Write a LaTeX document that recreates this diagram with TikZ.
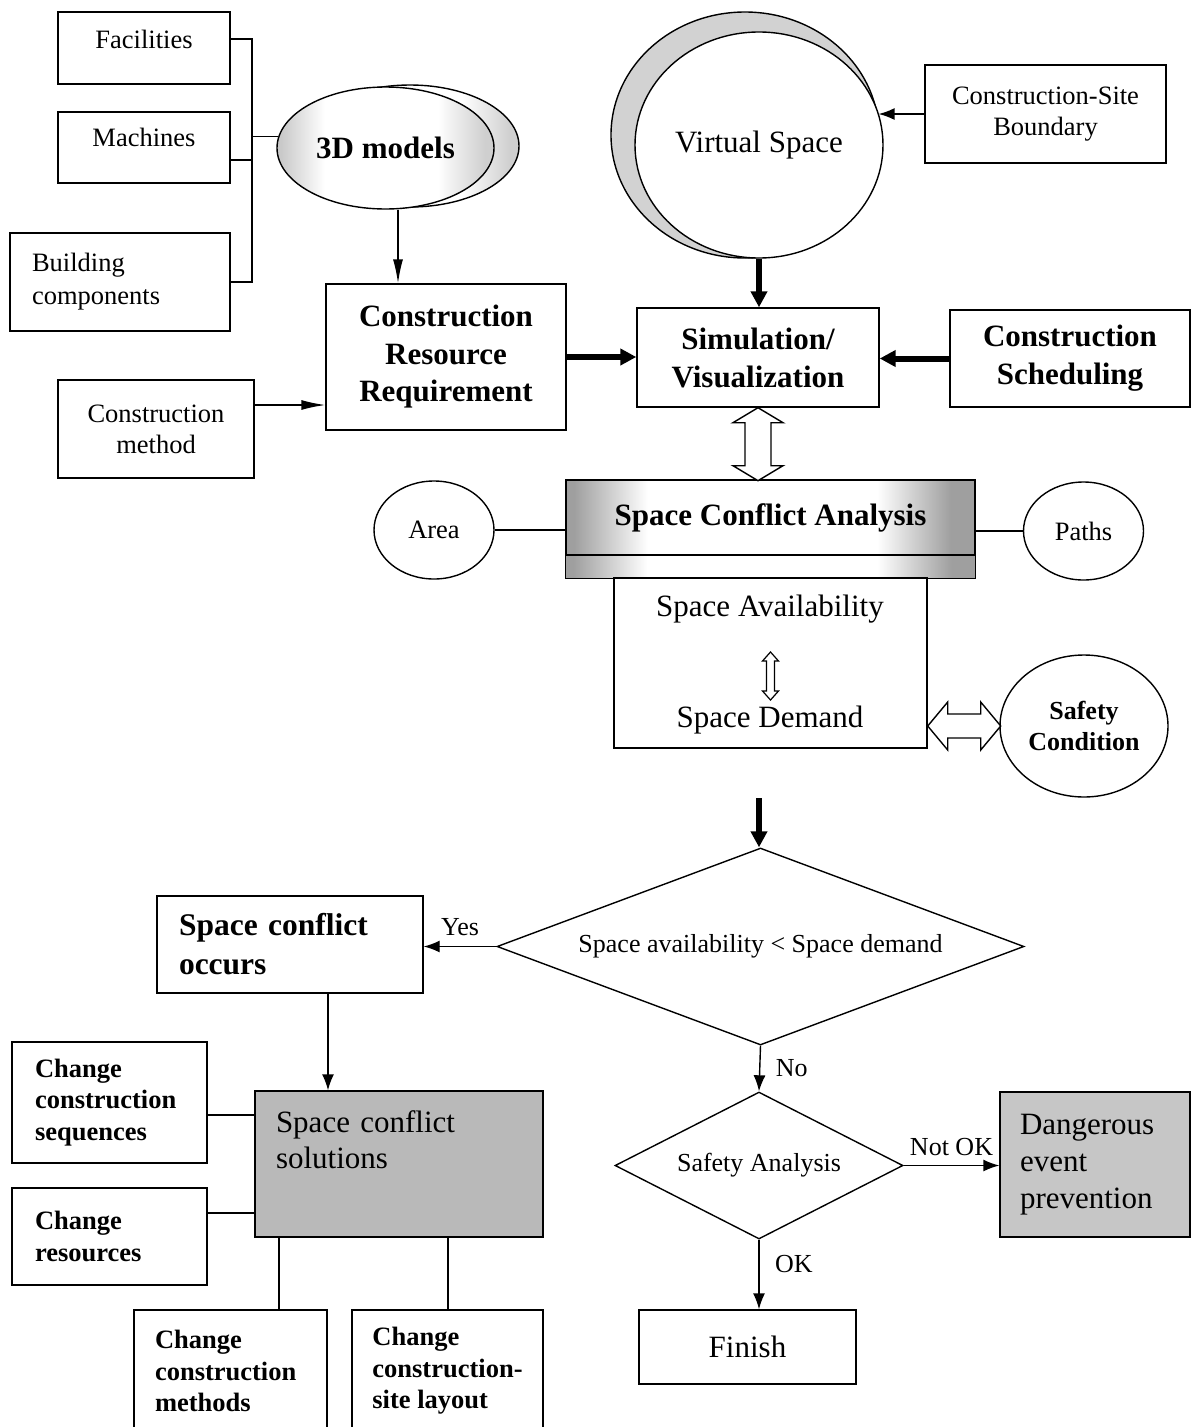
\documentclass[tikz,border=0pt]{standalone}
\usepackage{fontspec}
\setmainfont{Liberation Serif}
\usetikzlibrary{arrows.meta,shapes.geometric,calc}

% grey at the left and right borders, white in the middle
\pgfdeclarehorizontalshading{sidegray}{100bp}{color(0bp)=(gray!75); color(26bp)=(gray!75); color(35bp)=(white); color(63bp)=(white); color(72bp)=(gray!75); color(100bp)=(gray!75)}
\pgfdeclarehorizontalshading{ovalgray}{100bp}{color(0bp)=(gray!42); color(26bp)=(gray!42); color(36bp)=(white); color(62bp)=(white); color(73bp)=(gray!38); color(100bp)=(gray!38)}

\begin{document}
\begin{tikzpicture}[x=1pt,y=-1pt,
  reg/.style={font=\fontsize{26.5}{31}\selectfont},
  regb/.style={font=\fontsize{26.5}{31.5}\selectfont\bfseries},
  big/.style={font=\fontsize{31}{37}\selectfont},
  bigb/.style={font=\fontsize{31}{37.5}\selectfont\bfseries},
  lab/.style={font=\fontsize{26}{30}\selectfont},
  box/.style={draw, line width=1.4pt, rectangle, inner sep=0pt, reg},
  oval/.style={draw, line width=1.4pt, ellipse, inner sep=0pt},
  decision/.style={draw, line width=1.4pt, diamond, inner sep=0pt, lab},
  arr/.style={line width=1.4pt, -{Latex[length=16pt,width=12pt]}},
  longarr/.style={line width=1.4pt, -{Latex[length=24pt,width=10pt]}},
  link/.style={line width=1.4pt},
  thickarr/.style={line width=6pt, -{Triangle[length=16pt,width=16pt]}},
  hollow/.style={draw, line width=1.4pt, fill=white, line join=miter}
]
\useasboundingbox (0,0) rectangle (1192,1427);
\fill[white] (0,0) rectangle (1192,1427);

% ---------- inputs of the 3D models ----------
\node[box, minimum width=172, minimum height=72, text height=18pt, text depth=18pt] (fac) at (144,48) {Facilities};
\node[box, minimum width=172, minimum height=71, text height=18pt, text depth=21pt] (mach) at (144,147.5) {Machines};
\node[box, minimum width=220, minimum height=98, align=left, text width=176, font=\fontsize{26.5}{33}\selectfont] (bld) at (120,282) {Building\\components};

% 3D models (shadowed ellipse)
\draw[line width=1.4pt, shading=ovalgray] (410,146) ellipse [x radius=109, y radius=61];
\node[oval, shading=ovalgray, minimum width=217, minimum height=122, bigb] (tdm) at (385.5,148) {3D models};

\coordinate (brk) at (252,0);
\draw[link] ([yshift=9pt]fac.east) -| (brk |- bld.east) -- (bld.east);
\draw[link] ([yshift=-12.5pt]mach.east) -- ([yshift=-12.5pt]mach.east -| brk);
\draw[link] (tdm.174) -- (tdm.174 -| brk);

% ---------- resource requirement ----------
\node[box, minimum width=196, minimum height=98, align=center] (cm) at (156,429) {Construction\\method};
\node[box, bigb, minimum width=240, minimum height=146, align=center] (crr) at (446,357) {Construction\\Resource\\Requirement};
\draw[longarr] ([xshift=12.5pt]tdm.south) -- ([xshift=12.5pt]tdm.south |- crr.north);
\draw[longarr] ([yshift=24pt]cm.east) -- ([yshift=24pt]cm.east -| crr.west);

% ---------- virtual space ----------
\draw[line width=1.4pt, fill=gray!35] (745,135) ellipse [x radius=134, y radius=123];
\node[oval, fill=white, minimum width=248, minimum height=226, big] (vs) at (759,145) {Virtual Space};
\node[box, minimum width=241, minimum height=98, align=center] (bnd) at (1045.5,114) {Construction-Site\\Boundary};
\draw[arr] (bnd.west) -- (bnd.west -| vs.15);

% ---------- simulation ----------
\node[box, bigb, minimum width=242, minimum height=99, align=center, font=\fontsize{31}{38}\selectfont\bfseries] (sim) at (758,357.5) {Simulation/\\Visualization};
\node[box, bigb, minimum width=240, minimum height=97, align=center, font=\fontsize{31}{38}\selectfont\bfseries] (sched) at (1070,358.5) {Construction\\Scheduling};
\draw[thickarr] (vs.south) -- (vs.south |- sim.north);
\draw[thickarr] (crr.east) -- (crr.east -| sim.west);
\draw[thickarr] (sched.west) -- (sched.west -| sim.east);

% ---------- space conflict analysis ----------
\node[box, bigb, shading=sidegray, minimum width=409, minimum height=75] (sca) at (770.5,517.5) {Space Conflict Analysis};
\draw[line width=1.4pt, shading=sidegray] (sca.south west) rectangle ([yshift=-23pt]sca.south east);
\draw[hollow] (sim.south) -- ++(25,15) -- ++(-12,0) -- ++(0,43) -- ++(12,0) -- ++(-25,15)
  -- ++(-25,-15) -- ++(12,0) -- ++(0,-43) -- ++(-12,0) -- cycle;

\node[oval, reg, minimum width=120, minimum height=98] (area) at (434,530) {Area};
\node[oval, reg, minimum width=120, minimum height=98] (paths) at (1083.5,531) {Paths};
\draw[link] (area.east) -- (area.east -| sca.west);
\draw[link] (paths.west) -- (paths.west -| sca.east);

\node[box, minimum width=313, minimum height=170] (avail) at (770.5,663) {};
\node[big, inner sep=0pt] (avtxt) at (770,609) {Space Availability};
\node[big, inner sep=0pt] (dmtxt) at (770,720) {Space Demand};
\draw[hollow, line width=1.2pt] ([yshift=11pt]avail.center) -- ++(8,9) -- ++(-4,0) -- ++(0,30) -- ++(4,0) -- ++(-8,9)
  -- ++(-8,-9) -- ++(4,0) -- ++(0,-30) -- ++(-4,0) -- cycle;

\node[oval, minimum width=168, minimum height=142, align=center, font=\fontsize{26}{31}\selectfont\bfseries] (safe) at (1084,726) {Safety\\Condition};
\draw[hollow] (safe.west -| avail.east) -- ++(20,-24) -- ++(0,12) -- ++(33,0) -- ++(0,-12) -- ++(20,24)
  -- ++(-20,24) -- ++(0,-12) -- ++(-33,0) -- ++(0,12) -- cycle;

% ---------- decisions ----------
\coordinate (dtop) at (759,798);
\node[decision, aspect=2.67, minimum width=527, minimum height=197] (d1) at (760.5,946.5) {Space availability < Space demand};
\draw[thickarr] (dtop) -- (dtop |- d1.north);

\node[box, minimum width=266, minimum height=97, align=left, text width=222, font=\fontsize{31.5}{39}\selectfont\bfseries] (occ) at (290,944.5) {Space conflict\\occurs};
\draw[arr] (d1.west) -- (d1.west -| occ.east) node[midway, above=7pt, lab] {Yes};

\node[box, fill=gray!55, minimum width=288, minimum height=146, align=left, text width=246, text height=21pt, text depth=85pt, font=\fontsize{31}{36}\selectfont] (sol) at (399,1164) {Space conflict\\solutions};
\draw[arr] ([xshift=38pt]occ.south) -- ([xshift=38pt]occ.south |- sol.north);

\node[box, regb, minimum width=195, minimum height=121, align=left, text width=149] (seq) at (109.5,1102.5) {Change\\construction\\sequences};
\node[box, regb, minimum width=195, minimum height=97, align=left, text width=149] (res) at (109.5,1236.5) {Change\\resources};
\node[box, regb, minimum width=193, minimum height=122, align=left, text width=151] (meth) at (230.5,1371) {Change\\construction\\methods};
\node[box, regb, minimum width=191, minimum height=122, align=left] (lay) at (447.5,1371) {Change\\construction-\\site layout};
\draw[link] ([yshift=-12.5pt]seq.east) -- ([yshift=-12.5pt]seq.east -| sol.west);
\draw[link] ([yshift=23.5pt]res.east) -- ([yshift=23.5pt]res.east -| sol.west);
\draw[link] ([xshift=-120pt]sol.south) -- ([xshift=-120pt]sol.south |- meth.north);
\draw[link] ([xshift=49pt]sol.south) -- ([xshift=49pt]sol.south |- lay.north);

\node[decision, aspect=1.96, minimum width=288, minimum height=147] (sa) at (759,1165.5) {Safety Analysis};
\draw[arr] (d1.south) -- (sa.north) node[midway, right=12pt, lab] {No};

\node[box, fill=gray!45, minimum width=190, minimum height=145, align=left, text width=150, font=\fontsize{31}{37}\selectfont] (dng) at (1095,1164.5) {Dangerous\\event\\prevention};
\draw[arr] (sa.east) -- (sa.east -| dng.west) node[midway, above=6pt, lab] {Not OK};

\node[box, big, minimum width=217, minimum height=74] (fin) at (747.5,1347) {Finish};
\draw[arr] (sa.south) -- (sa.south |- fin.north) node[pos=0.35, right=12pt, lab] {OK};
\end{tikzpicture}
\end{document}
